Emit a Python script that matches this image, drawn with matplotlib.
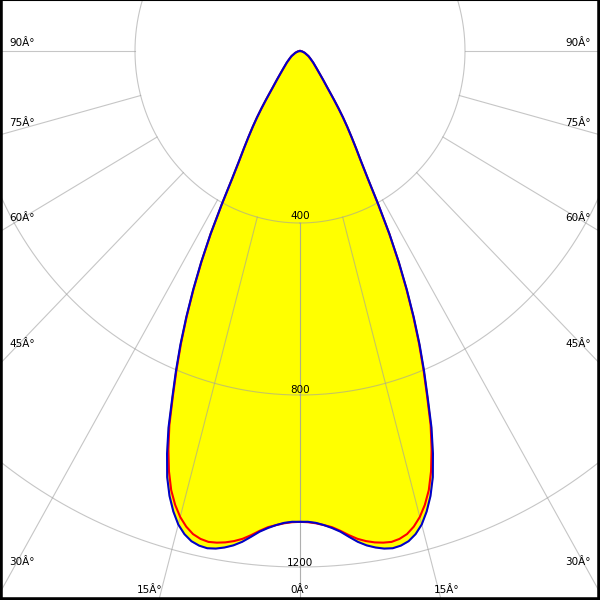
import numpy as np
import matplotlib
matplotlib.use("Agg")
import matplotlib.pyplot as plt
from matplotlib.lines import Line2D

plt.rcParams["font.family"] = ["DejaVu Sans"]

# intensity (cd) vs angle from nadir (symmetric)
angles = [0, 1, 2, 3, 4, 5, 6, 7, 8, 9, 10, 11, 12, 13, 14, 15, 16, 17, 18, 19,
          20, 21, 22, 23, 24, 25, 26, 27, 28, 29, 30, 31, 32, 33, 34, 35, 36, 37,
          38, 39, 40, 42, 45, 50, 55, 60, 70, 80, 90]
blue_cd = [1095, 1095, 1098, 1104, 1112, 1122, 1136, 1150, 1161, 1169, 1175, 1178,
           1176, 1170, 1158, 1140, 1114, 1082, 1042, 990, 932, 864, 803, 742, 678,
           613, 547, 478, 405, 340, 296, 264, 236, 211, 187, 163, 141, 122, 107, 96,
           87, 72, 57, 42, 31, 24, 12, 5, 0]
red_cd = [1095, 1096, 1099, 1104, 1110, 1120, 1132, 1143, 1151, 1157, 1161, 1163,
          1160, 1153, 1140, 1122, 1098, 1068, 1028, 980, 926, 860, 799, 738, 675,
          610, 544, 476, 403, 338, 294, 263, 235, 210, 186, 162, 140, 121, 106, 95,
          86, 71, 56, 41, 30, 23, 12, 5, 0]

rings = [400, 800, 1200]
ring_labels = ["400", "800", "1200"]
spoke_angles = [0, 15, 30, 45, 60, 75, 90]
side_labels = ["90Â°", "75Â°", "60Â°", "45Â°", "30Â°"]
bottom_labels = ["15Â°", "0Â°", "15Â°"]


def both_sides(a, v):
    a = np.radians(a)
    th = np.concatenate([-a[::-1], a[1:]])
    r = np.concatenate([np.array(v)[::-1], np.array(v)[1:]])
    return th, r


fig = plt.figure(figsize=(6, 6), dpi=100)
# polar centre at (300, 51) px, x-scale 0.4125 px/cd, y-scale 0.43 px/cd
ax = fig.add_axes([-0.6, -0.23167, 2.2, 2.29333], projection="polar")
ax.set_aspect("auto")
ax.set_theta_zero_location("S")
ax.set_ylim(0, 1600)
ax.grid(False)
ax.set_xticks([])
ax.set_yticks([])
ax.spines["polar"].set_visible(False)

tb, rb = both_sides(angles, blue_cd)
tr, rr = both_sides(angles, red_cd)

ax.fill(tb, rb, color="#ffff00", zorder=1)

gc = "#a0a0a0"
t = np.linspace(0, 2 * np.pi, 720)
for r0 in rings:
    ax.plot(t, np.full_like(t, r0), color=gc, lw=0.8, alpha=0.6, zorder=2)
for a in spoke_angles:
    for s in (-1, 1):
        ax.plot([s * np.radians(a)] * 2, [400, 1600], color=gc, lw=0.8, alpha=0.6, zorder=2)

ax.plot(tr, rr, color="#ff0000", lw=1.5, zorder=3)
ax.plot(tb, rb, color="#0000cc", lw=1.5, zorder=4)

fs = 7.5
for lab, yb in zip(side_labels, [46, 126, 221, 347, 565]):
    fig.text(9 / 600, 1 - yb / 600, lab, fontsize=fs, ha="left", va="baseline")
    fig.text(591 / 600, 1 - yb / 600, lab, fontsize=fs, ha="right", va="baseline")
for lab, xc in zip(bottom_labels, [150, 300, 447]):
    fig.text(xc / 600, 1 - 593 / 600, lab, fontsize=fs, ha="center", va="baseline")
for lab, yb in zip(ring_labels, [219, 393, 566]):
    fig.text(300 / 600, 1 - yb / 600, lab, fontsize=fs, ha="center", va="baseline", zorder=5)

# frame
for xs, ys, w in [([0, 0], [0, 1], 4), ([1, 1], [0, 1], 4), ([0, 1], [0, 0], 4), ([0, 1], [1, 1], 1.5)]:
    fig.add_artist(Line2D(xs, ys, transform=fig.transFigure, color="black", lw=w))

fig.savefig("out.png", dpi=100)
